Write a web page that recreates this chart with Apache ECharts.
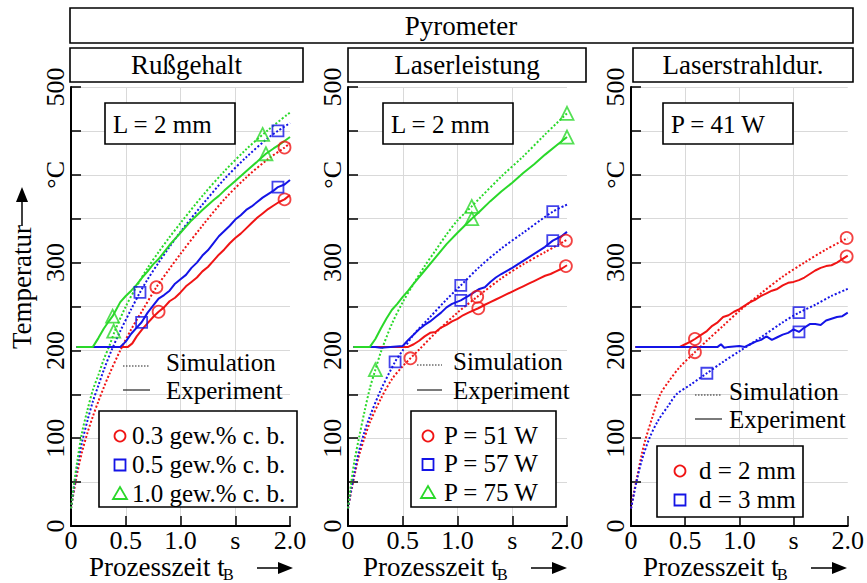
<!DOCTYPE html>
<html><head><meta charset="utf-8">
<script src="https://cdn.jsdelivr.net/npm/echarts@6/dist/echarts.min.js"></script>
<style>html,body{margin:0;padding:0;background:#fff}#c{width:867px;height:583px}</style>
</head><body><div id="c"></div><script>
// ---------- data (time in s, temperature in °C) ----------
const panelTitles = ['Rußgehalt', 'Laserleistung', 'Laserstrahldur.'];
const paramLabels = ['L = 2 mm', 'L = 2 mm', 'P = 41 W'];
const xTickLabels = {0: '0', 0.5: '0.5', 1: '1.0', 1.5: 's', 2: '2.0'};
const yTickLabels = {0: '0', 100: '100', 200: '200', 300: '300', 400: '°C', 500: '500'};

// Panel 1: Rußgehalt
const rus03Names = '0.3 gew.% c. b.';
const rus05Names = '0.5 gew.% c. b.';
const rus10Names = '1.0 gew.% c. b.';
const rus03Sim = [[0,20],[0.03,42],[0.06,62],[0.1,84],[0.15,106],[0.2,125],[0.25,142],[0.3,158],[0.35,173],[0.45,200],[0.55,224],[0.65,245],[0.78,272],[0.9,293],[1.0,310],[1.2,342],[1.4,372],[1.6,397],[1.8,418],[1.95,431],[2.0,436]];
const rus05Sim = [[0,20],[0.03,46],[0.06,70],[0.1,95],[0.15,120],[0.2,142],[0.25,160],[0.3,178],[0.37,200],[0.45,222],[0.55,247],[0.63,266],[0.7,281],[0.8,300],[0.9,318],[1.0,335],[1.2,366],[1.4,395],[1.6,420],[1.8,442],[1.89,450],[2.0,459]];
const rus10Sim = [[0,20],[0.03,50],[0.06,76],[0.1,106],[0.15,132],[0.2,155],[0.25,172],[0.3,190],[0.35,205],[0.4,222],[0.5,250],[0.6,273],[0.7,294],[0.8,312],[0.9,329],[1.0,345],[1.2,376],[1.4,404],[1.6,429],[1.8,451],[2.0,471]];
const rus03Exp = [[0.05,204],[0.52,204],[0.56,208],[0.6,216],[0.65,224],[0.7,231],[0.75,238],[0.8,244],[0.85,249],[0.9,256],[0.95,260],[1.0,266],[1.05,273],[1.1,278],[1.15,283],[1.2,290],[1.25,295],[1.3,302],[1.35,309],[1.4,315],[1.45,322],[1.5,328],[1.55,333],[1.6,339],[1.65,345],[1.7,351],[1.75,356],[1.8,361],[1.85,365],[1.9,369],[1.95,372],[2.0,377]];
const rus05Exp = [[0.05,204],[0.45,204],[0.5,210],[0.55,219],[0.6,226],[0.645,232],[0.7,243],[0.75,251],[0.8,259],[0.85,263],[0.9,268],[0.95,276],[1.0,281],[1.05,286],[1.1,294],[1.15,300],[1.2,308],[1.25,314],[1.3,322],[1.35,330],[1.4,336],[1.45,342],[1.5,349],[1.55,354],[1.6,360],[1.65,364],[1.7,369],[1.75,374],[1.8,378],[1.85,382],[1.89,386],[1.95,389],[2.0,394]];
const rus10Exp = [[0.05,204],[0.2,204],[0.25,214],[0.3,225],[0.35,234],[0.38,239],[0.45,255],[0.5,262],[0.55,268],[0.6,275],[0.65,283],[0.7,290],[0.75,298],[0.8,304],[0.85,312],[0.9,320],[0.95,327],[1.0,334],[1.1,348],[1.2,360],[1.3,371],[1.35,376],[1.4,382],[1.5,393],[1.6,404],[1.7,415],[1.78,424],[1.85,430],[1.9,434],[2.0,443]];
const rus03Marks = [[0.78,272],[1.95,431],[0.8,244],[1.95,372]];
const rus05Marks = [[0.63,266],[1.89,450],[0.645,232],[1.89,386]];
const rus10Marks = [[0.39,222],[1.75,446],[0.38,239],[1.78,424]];

// Panel 2: Laserleistung
const las51Name = 'P = 51 W';
const las57Name = 'P = 57 W';
const las75Name = 'P = 75 W';
const las51Sim = [[0,20],[0.03,40],[0.06,58],[0.1,80],[0.15,100],[0.2,118],[0.3,145],[0.4,167],[0.5,182],[0.57,191],[0.65,201],[0.8,220],[1.0,243],[1.18,261],[1.4,282],[1.6,298],[1.8,312],[2.0,326]];
const las57Sim = [[0,20],[0.03,42],[0.06,62],[0.1,85],[0.15,107],[0.2,125],[0.3,155],[0.43,187],[0.5,200],[0.6,218],[0.75,238],[0.9,258],[1.03,274],[1.2,295],[1.4,316],[1.6,334],[1.87,358],[2.0,366]];
const las75Sim = [[0,20],[0.03,50],[0.06,75],[0.1,100],[0.15,130],[0.2,157],[0.25,178],[0.3,198],[0.4,230],[0.5,255],[0.6,276],[0.7,296],[0.8,314],[0.9,332],[1.0,348],[1.13,364],[1.2,373],[1.4,398],[1.6,421],[1.8,446],[2.0,470]];
const las51Exp = [[0.05,204],[0.55,204],[0.6,207],[0.65,211],[0.7,216],[0.75,220],[0.8,221],[0.85,226],[0.9,229],[0.95,233],[1.0,236],[1.05,240],[1.1,243],[1.19,248],[1.25,252],[1.3,255],[1.35,258],[1.4,261],[1.45,264],[1.5,267],[1.55,270],[1.6,273],[1.65,276],[1.7,279],[1.75,282],[1.8,285],[1.85,287],[1.9,290],[1.95,293],[2.0,297]];
const las57Exp = [[0.05,204],[0.25,204],[0.3,203],[0.5,205],[0.55,212],[0.6,218],[0.65,224],[0.7,229],[0.75,233],[0.8,238],[0.85,243],[0.9,249],[0.95,253],[1.03,257],[1.1,262],[1.15,266],[1.2,270],[1.25,272],[1.3,278],[1.35,283],[1.4,287],[1.5,294],[1.6,302],[1.7,310],[1.8,318],[1.87,325],[1.95,330],[2.0,335]];
const las75Exp = [[0.05,204],[0.2,204],[0.25,213],[0.3,225],[0.35,236],[0.4,246],[0.45,253],[0.5,261],[0.55,268],[0.6,276],[0.7,291],[0.8,306],[0.9,321],[1.0,334],[1.13,350],[1.2,358],[1.3,370],[1.4,381],[1.5,391],[1.6,402],[1.7,412],[1.8,423],[1.9,433],[2.0,443]];
const las51Marks = [[0.57,191],[1.18,261],[1.99,325],[1.19,248],[1.99,296]];
const las57Marks = [[0.43,187],[1.03,274],[1.87,358],[1.03,257],[1.87,325]];
const las75Marks = [[0.25,178],[1.13,364],[2.0,470],[1.13,350],[2.0,443]];

// Panel 3: Laserstrahldurchmesser
const d2Name = 'd = 2 mm';
const d3Name = 'd = 3 mm';
const d2Sim = [[0,20],[0.03,40],[0.05,52],[0.1,82],[0.13,97],[0.2,125],[0.27,150],[0.35,165],[0.45,181],[0.59,198],[0.7,211],[0.85,228],[1.0,245],[1.2,265],[1.4,284],[1.6,300],[1.8,315],[2.0,328]];
const d3Sim = [[0,20],[0.03,38],[0.05,50],[0.1,75],[0.17,100],[0.25,120],[0.35,138],[0.42,150],[0.55,161],[0.7,174],[0.85,187],[1.0,199],[1.2,215],[1.4,232],[1.55,243],[1.7,252],[1.85,262],[2.0,270]];
const d2Exp = [[0.04,204],[0.45,204],[0.5,207],[0.55,210],[0.59,213],[0.65,218],[0.7,222],[0.75,228],[0.8,232],[0.85,238],[0.9,240],[0.95,244],[1.0,247],[1.05,251],[1.1,255],[1.15,258],[1.2,262],[1.25,265],[1.3,268],[1.35,270],[1.4,274],[1.45,277],[1.5,278],[1.55,280],[1.6,283],[1.65,287],[1.7,291],[1.75,294],[1.8,296],[1.85,297],[1.9,300],[1.95,304],[2.0,308]];
const d3Exp = [[0.04,204],[0.8,204],[0.83,207],[0.86,203],[0.9,204],[1.0,205],[1.05,204],[1.1,207],[1.15,210],[1.2,212],[1.25,216],[1.3,212],[1.35,215],[1.4,218],[1.45,220],[1.5,224],[1.55,221],[1.6,226],[1.65,230],[1.7,230],[1.75,229],[1.8,234],[1.85,236],[1.9,238],[1.95,239],[2.0,243]];
const d2Marks = [[0.59,198],[1.99,328],[0.59,213],[1.99,307]];
const d3Marks = [[0.7,174],[1.55,243],[1.55,221]];

// ---------- styling ----------
const RED = '#f01414', BLUE = '#1414e6', GREEN = '#2ad82a';
const FONT = "'Liberation Serif', 'Times New Roman', serif";
const grids = [
  {left: 71, top: 87, width: 219, height: 439},
  {left: 348, top: 87, width: 219, height: 439},
  {left: 631, top: 87, width: 217, height: 439}
];

const groups = [
  [ {name: rus03Names, color: RED, sym: 'circle', sim: rus03Sim, exp: rus03Exp, marks: rus03Marks},
    {name: rus05Names, color: BLUE, sym: 'rect', sim: rus05Sim, exp: rus05Exp, marks: rus05Marks},
    {name: rus10Names, color: GREEN, sym: 'triangle', sim: rus10Sim, exp: rus10Exp, marks: rus10Marks} ],
  [ {name: las51Name, color: RED, sym: 'circle', sim: las51Sim, exp: las51Exp, marks: las51Marks},
    {name: las57Name, color: BLUE, sym: 'rect', sim: las57Sim, exp: las57Exp, marks: las57Marks},
    {name: las75Name, color: GREEN, sym: 'triangle', sim: las75Sim, exp: las75Exp, marks: las75Marks} ],
  [ {name: d2Name, color: RED, sym: 'circle', sim: d2Sim, exp: d2Exp, marks: d2Marks},
    {name: d3Name, color: BLUE, sym: 'rect', sim: d3Sim, exp: d3Exp, marks: d3Marks} ]
];

const xAxes = [], yAxes = [], series = [];
grids.forEach((g, i) => {
  xAxes.push({
    gridIndex: i, type: 'value', min: 0, max: 2, interval: 0.5,
    axisLine: {show: true, onZero: false, lineStyle: {color: '#000', width: 2}},
    axisTick: {show: true, inside: true, length: 10, lineStyle: {color: '#000', width: 1.5}},
    axisLabel: {color: '#000', fontFamily: FONT, fontSize: 26, margin: 1,
      formatter: v => (xTickLabels[v] !== undefined ? xTickLabels[v] : '')},
    splitLine: {show: true, showMinLine: false, showMaxLine: false, lineStyle: {color: '#d9d9d9', width: 1}}
  });
  yAxes.push({
    gridIndex: i, type: 'value', min: 0, max: 500, interval: 50,
    axisLine: {show: true, onZero: false, lineStyle: {color: '#000', width: 2}},
    axisTick: {show: true, inside: true, length: 10, lineStyle: {color: '#000', width: 1.5}},
    axisLabel: {color: '#000', fontFamily: FONT, fontSize: 26, margin: 3, rotate: 90,
      formatter: v => (yTickLabels[v] !== undefined ? yTickLabels[v] : '')},
    splitLine: {show: true, showMinLine: false, lineStyle: {color: '#d9d9d9', width: 1}}
  });
  groups[i].forEach(s => {
    series.push({type: 'line', name: s.name + ' Simulation', xAxisIndex: i, yAxisIndex: i,
      data: s.sim, showSymbol: false, smooth: 0.3, z: 3,
      lineStyle: {color: s.color, width: 2, type: [2, 2]}});
    series.push({type: 'line', name: s.name + ' Experiment', xAxisIndex: i, yAxisIndex: i,
      data: s.exp, showSymbol: false, z: 4,
      lineStyle: {color: s.color, width: 2}});
    series.push({type: 'scatter', name: s.name, xAxisIndex: i, yAxisIndex: i,
      data: s.marks, symbol: s.sym, symbolSize: s.sym === 'triangle' ? 13 : (s.sym === 'rect' ? 11 : 12), z: 5,
      itemStyle: {color: 'rgba(255,255,255,0)', borderColor: s.color, borderWidth: 1.8}});
  });
});

// ---------- decorations (boxes, keys, axis titles) ----------
const graphic = [];
function txt(x, y, text, size, align, extra) {
  return Object.assign({type: 'text', x: x, y: y, z: 110,
    style: {text: text, font: size + 'px ' + FONT, fill: '#000',
      align: align || 'left', verticalAlign: 'middle', textAlign: align || 'left', textVerticalAlign: 'middle'}}, extra || {});
}
function rect(x, y, w, h) {
  return {type: 'rect', z: 100, shape: {x: x, y: y, width: w, height: h},
    style: {fill: '#fff', stroke: '#000', lineWidth: 1.6}};
}
function line(x1, y1, x2, y2, dash) {
  return {type: 'line', z: 110, shape: {x1: x1, y1: y1, x2: x2, y2: y2},
    style: {stroke: '#222', lineWidth: 1.2, lineDash: dash || null}};
}
function marker(sym, cx, cy, color) {
  const st = {fill: 'none', stroke: color, lineWidth: 1.8};
  if (sym === 'circle') return {type: 'circle', z: 111, shape: {cx: cx, cy: cy, r: 5.5}, style: st};
  if (sym === 'rect') return {type: 'rect', z: 111, shape: {x: cx - 5.5, y: cy - 5.5, width: 11, height: 11}, style: st};
  return {type: 'polygon', z: 111, shape: {points: [[cx - 7, cy + 5], [cx + 7, cy + 5], [cx, cy - 7]]}, style: st};
}

// main title
graphic.push(rect(70, 8, 783, 35), txt(461, 26, 'Pyrometer', 27, 'center'));
// panel titles
const titleBoxes = [[70, 48, 233], [348, 48, 238], [633, 48, 220]];
titleBoxes.forEach((b, i) => graphic.push(rect(b[0], b[1], b[2], 34), txt(b[0] + b[2] / 2, b[1] + 17, panelTitles[i], 27, 'center')));
// parameter boxes
const paramBoxes = [[105, 103], [383, 103], [663, 103]];
paramBoxes.forEach((b, i) => graphic.push(rect(b[0], b[1], 130, 41), txt(b[0] + 8, b[1] + 21, paramLabels[i], 25, 'left')));
// Simulation / Experiment keys: [lineX1, lineX2, textX, ySim, yExp]
const keys = [[123, 150, 166, 362, 390], [417, 442, 453, 361, 390], [695, 722, 729, 391, 419]];
keys.forEach(k => {
  graphic.push(line(k[0], k[3] + 4, k[1], k[3] + 4, [1.5, 1.5]), txt(k[2], k[3], 'Simulation', 25, 'left'));
  graphic.push(line(k[0], k[4], k[1], k[4]), txt(k[2], k[4], 'Experiment', 25, 'left'));
});
// series legend boxes: [x, y, w, h, markerX, textX, firstRowY, rowStep]
const legBoxes = [[99, 411, 198, 96, 120, 132, 435, 29], [411, 411, 145, 96, 428, 444, 435, 28.5], [657, 446, 146, 71, 680, 699, 470, 29]];
legBoxes.forEach((b, i) => {
  graphic.push(rect(b[0], b[1], b[2], b[3]));
  groups[i].forEach((s, j) => {
    const yy = b[6] + j * b[7];
    graphic.push(marker(s.sym, b[4], yy + 1, s.color), txt(b[5], yy, s.name, 25, 'left'));
  });
});
// x axis titles
const xTitleX = [89, 363, 643];
xTitleX.forEach(x0 => {
  graphic.push(txt(x0, 567, 'Prozesszeit t', 27, 'left'));
  graphic.push(txt(x0 + 134, 574, 'B', 16, 'left'));
  graphic.push({type: 'line', z: 110, shape: {x1: x0 + 168, y1: 568, x2: x0 + 192, y2: 568}, style: {stroke: '#000', lineWidth: 1.5}});
  graphic.push({type: 'polygon', z: 110, shape: {points: [[x0 + 189, 562], [x0 + 204, 568], [x0 + 189, 574]]}, style: {fill: '#000'}});
});
// y axis title
graphic.push(txt(22, 287, 'Temperatur', 27, 'center', {rotation: Math.PI / 2}));
graphic.push({type: 'line', z: 110, shape: {x1: 22, y1: 226, x2: 22, y2: 200}, style: {stroke: '#000', lineWidth: 1.5}});
graphic.push({type: 'polygon', z: 110, shape: {points: [[16, 202], [22, 187], [28, 202]]}, style: {fill: '#000'}});

const chart = echarts.init(document.getElementById('c'), null, {renderer: 'svg'});
chart.setOption({
  animation: false,
  backgroundColor: '#fff',
  textStyle: {fontFamily: FONT},
  grid: grids,
  xAxis: xAxes,
  yAxis: yAxes,
  series: series,
  graphic: graphic
});
</script></body></html>
